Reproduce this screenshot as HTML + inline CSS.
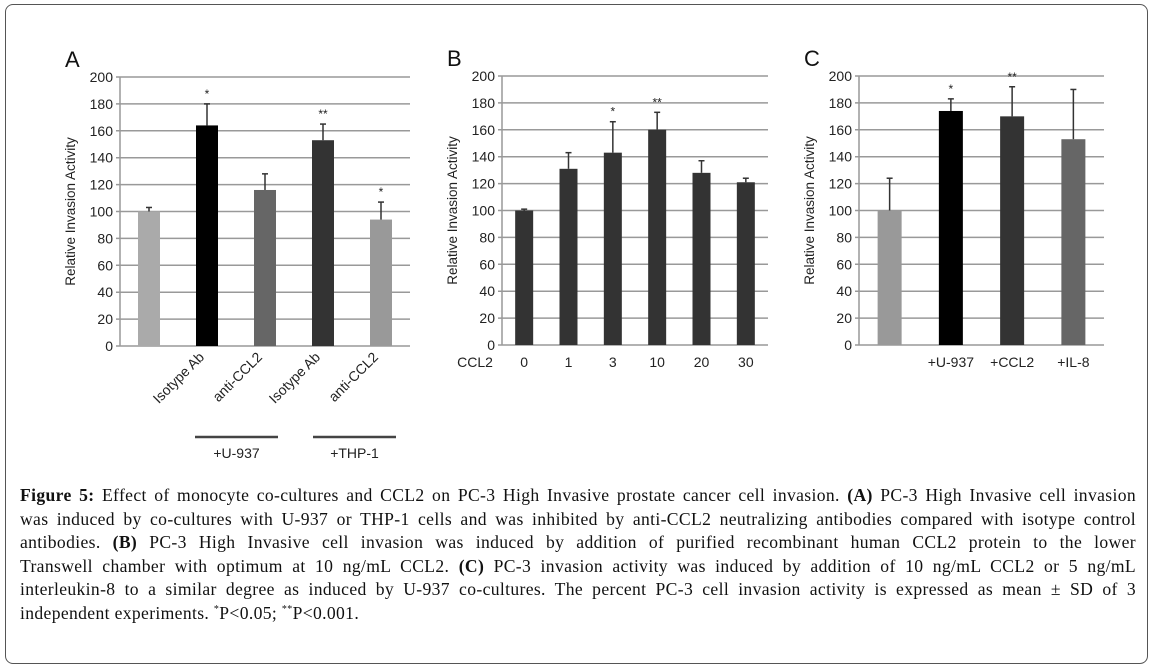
<!DOCTYPE html>
<html><head><meta charset="utf-8">
<style>
body{margin:0;background:#fff;width:1155px;height:672px;overflow:hidden;position:relative;font-family:"Liberation Sans",sans-serif}
#frame{position:absolute;left:5px;top:4px;width:1143px;height:660px;border:1.5px solid #555;border-radius:8px;box-sizing:border-box}
#cap{position:absolute;left:20px;top:484px;width:1116px;font-family:"Liberation Serif",serif;font-size:17.6px;letter-spacing:0.35px;color:#111}
#cap div{height:23.5px;line-height:23.5px;text-align:justify;text-align-last:justify;white-space:nowrap}
#cap div.last{text-align-last:left}
sup{font-size:10px;line-height:0}
</style></head><body>
<div id="frame"></div>
<svg id="chart" width="1155" height="480" style="position:absolute;left:0;top:0"></svg>
<div id="cap">
<div><b>Figure 5:</b> Effect of monocyte co-cultures and CCL2 on PC-3 High Invasive prostate cancer cell invasion. <b>(A)</b> PC-3 High Invasive cell invasion</div>
<div>was induced by co-cultures with U-937 or THP-1 cells and was inhibited by anti-CCL2 neutralizing antibodies compared with isotype control</div>
<div>antibodies. <b>(B)</b> PC-3 High Invasive cell invasion was induced by addition of purified recombinant human CCL2 protein to the lower</div>
<div>Transwell chamber with optimum at 10 ng/mL CCL2. <b>(C)</b> PC-3 invasion activity was induced by addition of 10 ng/mL CCL2 or 5 ng/mL</div>
<div>interleukin-8 to a similar degree as induced by U-937 co-cultures. The percent PC-3 cell invasion activity is expressed as mean ± SD of 3</div>
<div class="last">independent experiments. <sup>*</sup>P&lt;0.05; <sup>**</sup>P&lt;0.001.</div>
</div>
<script>
const aCategories=["","Isotype Ab","anti-CCL2","Isotype Ab","anti-CCL2"];
const aValues=[100,164,116,153,94];
const aErrTop=[103,180,128,165,107];
const aStars=["","*","","**","*"];
const bCategories=["0","1","3","10","20","30"];
const bValues=[100,131,143,160,128,121];
const bErrTop=[101,143,166,173,137,124];
const bStars=["","","*","**","",""];
const cCategories=["","+U-937","+CCL2","+IL-8"];
const cValues=[100,174,170,153];
const cErrTop=[124,183,192,190];
const cStars=["","*","**",""];
const yTicks=[0,20,40,60,80,100,120,140,160,180,200];

const svg=document.getElementById('chart');
const NS='http://www.w3.org/2000/svg';
function mk(tag,attrs,text){const e=document.createElementNS(NS,tag);for(const k in attrs)e.setAttribute(k,attrs[k]);if(text!==undefined)e.textContent=text;svg.appendChild(e);return e;}

function panel(p){
  const y=v=>p.y0-(v/200)*(p.y0-p.y200);
  const band=(p.x1-p.x0)/p.cats.length;
  const xc=i=>p.x0+band*(i+0.5);
  let t=mk('text',{x:p.x0-55,y:p.y200-10,'font-size':22,fill:'#111'},p.letter);
  
  
  yTicks.forEach(v=>{
    let g=mk('line',{x1:p.x0-4,x2:p.x1,y1:y(v),y2:y(v),stroke:'#999','stroke-width':1.5});
    
    
    let l=mk('text',{x:p.x0-7,y:y(v)+5,'font-size':14,'text-anchor':'end',fill:'#222'},v);
    
    
  });
  let ax=mk('line',{x1:p.x0,x2:p.x0,y1:p.y200,y2:p.y0,stroke:'#999','stroke-width':1.5});
  
  
  let yt=mk('text',{x:0,y:0,'font-size':13.5,'text-anchor':'middle',fill:'#222',transform:`translate(${p.x0-45},${(p.y0+p.y200)/2}) rotate(-90)`},'Relative Invasion Activity');
  
  
  p.vals.forEach((v,i)=>{
    const cx=xc(i);
    let b=mk('rect',{x:cx-p.bw/2,y:y(v),width:p.bw,height:p.y0-y(v),fill:p.colors[i]});
    
    
    let e=mk('line',{x1:cx,x2:cx,y1:y(v),y2:y(p.err[i]),stroke:'#333','stroke-width':1.5});
    
    
    let c=mk('line',{x1:cx-3,x2:cx+3,y1:y(p.err[i]),y2:y(p.err[i]),stroke:'#333','stroke-width':1.5});
    
    
    if(p.stars[i]){
      let s=mk('text',{x:cx,y:y(p.err[i])-6,'font-size':12,'text-anchor':'middle',fill:'#222'},p.stars[i]);
      
      
    }
    if(p.cats[i]){
      let lab;
      if(p.rot){
        lab=mk('text',{x:0,y:0,'font-size':14,'text-anchor':'end',fill:'#222',transform:`translate(${cx-2},${p.y0+12}) rotate(-45)`},p.cats[i]);
      }else{
        lab=mk('text',{x:cx,y:p.y0+22,'font-size':14,'text-anchor':'middle',fill:'#222'},p.cats[i]);
      }
      
      
    }
  });
  return {xc};
}
panel({id:'a',letter:'A',x0:120,x1:410,y0:346,y200:77,bw:22,cats:aCategories,vals:aValues,err:aErrTop,stars:aStars,colors:['#aaa','#000','#666','#333','#999'],rot:true});
panel({id:'b',letter:'B',x0:502,x1:768,y0:345,y200:76,bw:18,cats:bCategories,vals:bValues,err:bErrTop,stars:bStars,colors:bValues.map(()=>'#333'),rot:false});
panel({id:'c',letter:'C',x0:859,x1:1104,y0:345,y200:76,bw:24,cats:cCategories,vals:cValues,err:cErrTop,stars:cStars,colors:['#999','#000','#333','#666'],rot:false});

let ccl=mk('text',{x:475,y:367,'font-size':14,'text-anchor':'middle',fill:'#222'},'CCL2');


[[195,278,'+U-937'],[313,396,'+THP-1']].forEach((g,i)=>{
  let l=mk('line',{x1:g[0],x2:g[1],y1:437,y2:437,stroke:'#444','stroke-width':2.5});
  
  
  let t=mk('text',{x:(g[0]+g[1])/2,y:458,'font-size':14,'text-anchor':'middle',fill:'#222'},g[2]);
  
  
});
</script>
</body></html>
